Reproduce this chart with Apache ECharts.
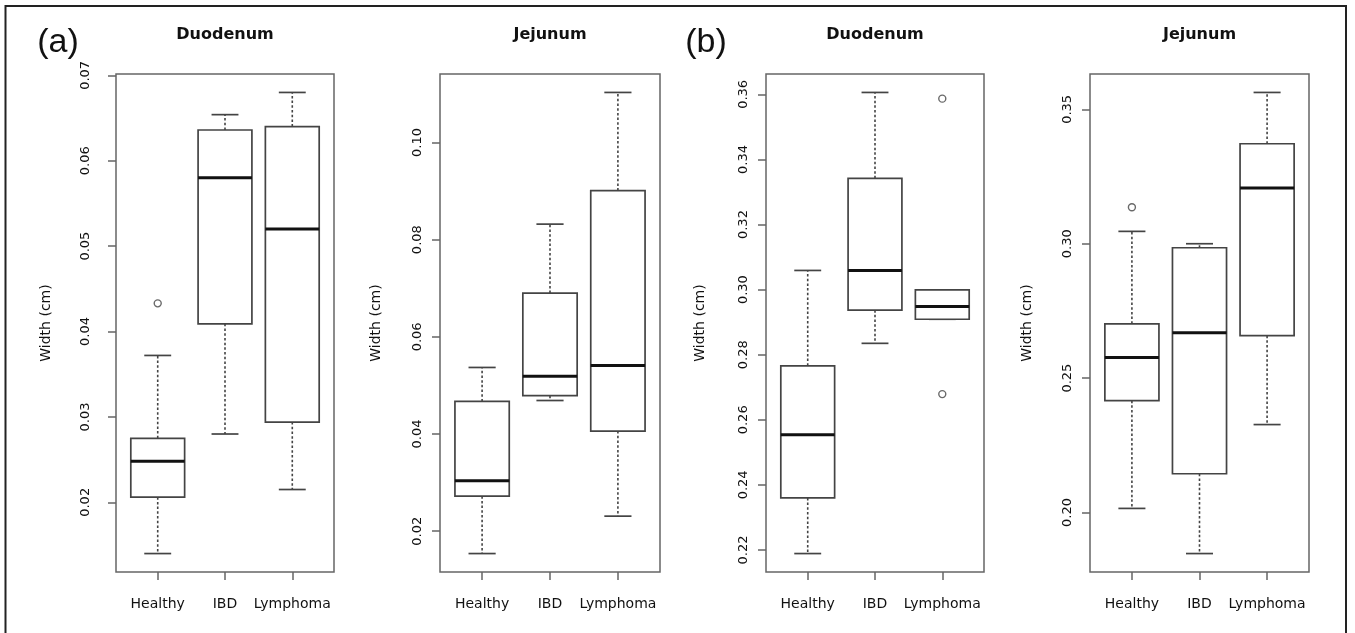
<!DOCTYPE html>
<html>
<head>
<meta charset="utf-8">
<script src="https://cdn.jsdelivr.net/npm/echarts@6/dist/echarts.min.js"></script>
<style>
html,body{margin:0;padding:0;background:#fff;}
#chart{width:1355px;height:633px;}
</style>
</head>
<body>
<div id="chart"></div>
<script>
// ---------- data ----------
const categories = ['Healthy', 'IBD', 'Lymphoma'];
const yName = 'Width (cm)';

// box stats per category: [lower whisker, Q1, median, Q3, upper whisker]
const duodenumA = [
  [0.0140, 0.0206, 0.0248, 0.0275, 0.0372],
  [0.0280, 0.0409, 0.0580, 0.0636, 0.0654],
  [0.0215, 0.0294, 0.0520, 0.0640, 0.0680]
];
const duodenumAOutliers = [[1, 0.0433]];
const duodenumATicks = [0.02, 0.03, 0.04, 0.05, 0.06, 0.07];

const jejunumA = [
  [0.0154, 0.0272, 0.0304, 0.0467, 0.0537],
  [0.0469, 0.0479, 0.0519, 0.0690, 0.0832],
  [0.0231, 0.0406, 0.0541, 0.0901, 0.1103]
];
const jejunumAOutliers = [];
const jejunumATicks = [0.02, 0.04, 0.06, 0.08, 0.10];

const duodenumB = [
  [0.2189, 0.2360, 0.2554, 0.2766, 0.3059],
  [0.2835, 0.2937, 0.3059, 0.3342, 0.3606],
  [0.2909, 0.2909, 0.2948, 0.2999, 0.2999]
];
const duodenumBOutliers = [[3, 0.3587], [3, 0.2679]];
const duodenumBTicks = [0.22, 0.24, 0.26, 0.28, 0.30, 0.32, 0.34, 0.36];

const jejunumB = [
  [0.2015, 0.2416, 0.2577, 0.2702, 0.3046],
  [0.1847, 0.2144, 0.2669, 0.2985, 0.3000],
  [0.2327, 0.2658, 0.3207, 0.3372, 0.3563]
];
const jejunumBOutliers = [[1, 0.3136]];
const jejunumBTicks = [0.20, 0.25, 0.30, 0.35];

const panelTitles = ['Duodenum', 'Jejunum', 'Duodenum', 'Jejunum'];
const panelLetters = ['(a)', '(b)'];

// ---------- layout / style ----------
const panels = [
  { stats: duodenumA, out: duodenumAOutliers, ticks: duodenumATicks, left: 116, width: 218, labelMargin: 24, nameGap: 63 },
  { stats: jejunumA,  out: jejunumAOutliers,  ticks: jejunumATicks,  left: 440, width: 220, labelMargin: 16, nameGap: 57 },
  { stats: duodenumB, out: duodenumBOutliers, ticks: duodenumBTicks, left: 766, width: 218, labelMargin: 16, nameGap: 59 },
  { stats: jejunumB,  out: jejunumBOutliers,  ticks: jejunumBTicks,  left: 1090, width: 219, labelMargin: 16, nameGap: 56 }
];
const GRID_TOP = 74, GRID_H = 498;
const BOX_HALF = 0.4, STAPLE_HALF = 0.2;
const BOX_COLOR = '#444', FRAME_COLOR = '#666', TEXT_COLOR = '#111';
const FONT = 'DejaVu Sans';

function extRange(stats, out) {
  const vals = [];
  stats.forEach(s => s.forEach(v => vals.push(v)));
  out.forEach(o => vals.push(o[1]));
  const lo = Math.min(...vals), hi = Math.max(...vals);
  const r = hi - lo;
  return [lo - 0.04 * r, hi + 0.04 * r];
}

function renderBox(params, api) {
  const x = api.value(0);
  const lo = api.value(1), q1 = api.value(2), md = api.value(3), q3 = api.value(4), hi = api.value(5);
  const p = (xx, yy) => api.coord([xx, yy]);
  const a = p(x - BOX_HALF, q3), b = p(x + BOX_HALF, q1);
  const c3 = p(x, q3), cHi = p(x, hi), c1 = p(x, q1), cLo = p(x, lo);
  const sL = p(x - STAPLE_HALF, hi)[0], sR = p(x + STAPLE_HALF, hi)[0];
  const mL = p(x - BOX_HALF, md), mR = p(x + BOX_HALF, md);
  const dash = { stroke: BOX_COLOR, lineWidth: 1.6, lineDash: [2.5, 2.2] };
  const solid = { stroke: BOX_COLOR, lineWidth: 1.7 };
  return {
    type: 'group',
    children: [
      { type: 'line', shape: { x1: c3[0], y1: c3[1], x2: cHi[0], y2: cHi[1] }, style: dash },
      { type: 'line', shape: { x1: c1[0], y1: c1[1], x2: cLo[0], y2: cLo[1] }, style: dash },
      { type: 'line', shape: { x1: sL, y1: cHi[1], x2: sR, y2: cHi[1] }, style: solid },
      { type: 'line', shape: { x1: sL, y1: cLo[1], x2: sR, y2: cLo[1] }, style: solid },
      { type: 'rect', shape: { x: a[0], y: a[1], width: b[0] - a[0], height: b[1] - a[1] },
        style: { fill: '#fff', stroke: BOX_COLOR, lineWidth: 1.7 } },
      { type: 'line', shape: { x1: mL[0], y1: mL[1], x2: mR[0], y2: mR[1] },
        style: { stroke: '#111', lineWidth: 3 } }
    ]
  };
}

const grids = [], xAxes = [], yAxes = [], series = [], graphics = [];
panels.forEach((pn, i) => {
  grids.push({ left: pn.left, top: GRID_TOP, width: pn.width, height: GRID_H, show: true,
    borderColor: FRAME_COLOR, borderWidth: 1.5, backgroundColor: 'transparent', outerBoundsMode: 'none' });
  xAxes.push({
    gridIndex: i, type: 'value', min: 0.38, max: 3.62,
    axisLine: { show: false }, splitLine: { show: false },
    axisTick: { show: true, length: 8, customValues: [1, 2, 3], lineStyle: { color: FRAME_COLOR, width: 1.5 } },
    axisLabel: { show: true, customValues: [1, 2, 3], margin: 25,
      formatter: v => categories[Math.round(v) - 1],
      fontFamily: FONT, fontSize: 14, color: TEXT_COLOR }
  });
  const rg = extRange(pn.stats, pn.out);
  yAxes.push({
    gridIndex: i, type: 'value', min: rg[0], max: rg[1],
    name: yName, nameLocation: 'middle', nameGap: pn.nameGap,
    nameTextStyle: { fontFamily: FONT, fontSize: 14, color: TEXT_COLOR },
    axisLine: { show: false }, splitLine: { show: false },
    axisTick: { show: true, length: 8, customValues: pn.ticks, lineStyle: { color: FRAME_COLOR, width: 1.5 } },
    axisLabel: { show: true, rotate: 90, margin: pn.labelMargin, customValues: pn.ticks,
      formatter: v => v.toFixed(2), fontFamily: FONT, fontSize: 13, color: TEXT_COLOR }
  });
  series.push({
    type: 'custom', xAxisIndex: i, yAxisIndex: i, renderItem: renderBox,
    encode: { x: 0, y: [1, 2, 3, 4, 5] },
    data: pn.stats.map((s, k) => [k + 1].concat(s)), z: 2
  });
  series.push({
    type: 'scatter', xAxisIndex: i, yAxisIndex: i, symbol: 'circle', symbolSize: 7,
    itemStyle: { color: '#fff', borderColor: BOX_COLOR, borderWidth: 1.4 },
    data: pn.out, z: 3
  });
  graphics.push({
    type: 'text', x: pn.left + pn.width / 2, y: 35,
    style: { text: panelTitles[i], fontFamily: FONT, fontWeight: 'bold', fontSize: 16,
      fill: TEXT_COLOR, textAlign: 'center', textVerticalAlign: 'middle' }
  });
});

graphics.push({ type: 'text', x: 58, y: 43,
  style: { text: panelLetters[0], fontFamily: 'Liberation Sans', fontSize: 34, fill: TEXT_COLOR,
    textAlign: 'center', textVerticalAlign: 'middle' } });
graphics.push({ type: 'text', x: 706, y: 43,
  style: { text: panelLetters[1], fontFamily: 'Liberation Sans', fontSize: 34, fill: TEXT_COLOR,
    textAlign: 'center', textVerticalAlign: 'middle' } });
graphics.push({ type: 'rect', shape: { x: 5.5, y: 6, width: 1340.5, height: 700 },
  style: { fill: 'none', stroke: '#222', lineWidth: 2 } });

const chart = echarts.init(document.getElementById('chart'), null, { renderer: 'canvas' });
chart.setOption({
  backgroundColor: '#fff',
  animation: false,
  grid: grids, xAxis: xAxes, yAxis: yAxes, series: series, graphic: graphics
});
</script>
</body>
</html>
